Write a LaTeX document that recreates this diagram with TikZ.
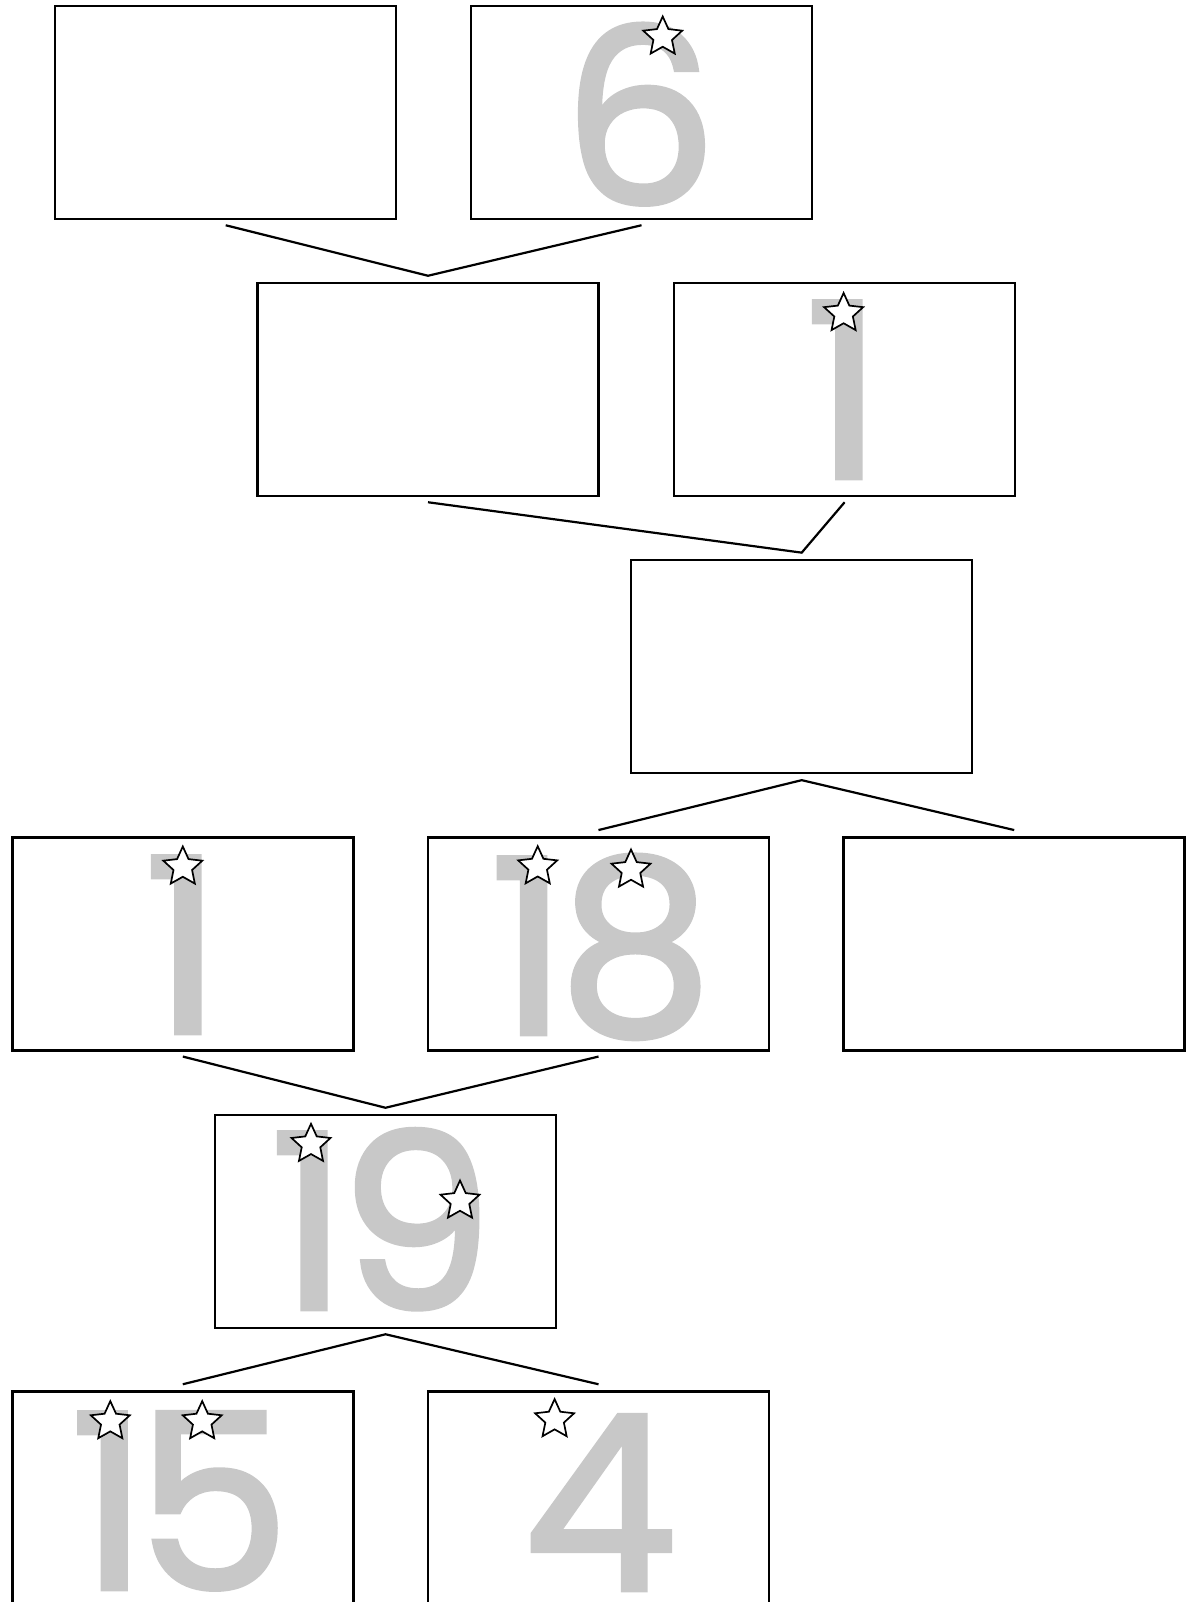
\documentclass[tikz,border=0pt]{standalone}
\usepackage{fontspec}
\setmainfont{Poppins}
\newfontfamily\digitfont[FakeBold=2]{Poppins}
\usetikzlibrary{shapes.geometric}
\definecolor{digitgray}{RGB}{200,200,200}
\tikzset{
  box/.style={draw=black, line width=2.5pt, minimum width=341pt, minimum height=213pt, inner sep=0pt, fill=none},
  link/.style={draw=black, line width=2.2pt, line join=miter},
  digit/.style={text=digitgray, inner sep=0pt, anchor=base, font=\digitfont\fontsize{244pt}{244pt}\selectfont},
  startstar/.style={star, star points=5, star point ratio=2.1, minimum size=41pt, inner sep=0pt, draw=black, line width=1.7pt, fill=white}
}
\begin{document}
\begin{tikzpicture}[x=1pt,y=-1pt]
\useasboundingbox (0,0) rectangle (1196,1602);
% boxes
\node[box] (A) at (225.7,112.5) {};
\node[box] (B) at (641.5,112.5) {};
\node[box] (C) at (428,389.5) {};
\node[box] (D) at (844.6,389.5) {};
\node[box] (E) at (801.7,666.4) {};
\node[box] (F) at (182.8,943.8) {};
\node[box] (G) at (598.5,943.8) {};
\node[box] (H) at (1014.2,943.8) {};
\node[box] (I) at (385.5,1221.5) {};
\node[box] (J) at (182.8,1498) {};
\node[box] (K) at (598.5,1498) {};
% digits
\node[digit] (tB) at (640,204) {6};
\node[digit] (tD) at (844,478) {1};
\node[digit] (tF) at (183,1033) {1};
\node[digit] (tG) at (601,1034) {1\hspace{-9.5pt}8};
\node[digit] (tI) at (381.5,1309) {1\hspace{-9pt}9};
\node[digit] (tJ) at (180,1589) {1\hspace{-12pt}5};
\node[digit] (tK) at (600,1590) {4};
% stars
\node[startstar] (sB) at (662.7,37) {};
\node[startstar] (sD) at (843.6,313.5) {};
\node[startstar] (sF) at (182.8,867) {};
\node[startstar] (sG1) at (537.7,866.7) {};
\node[startstar] (sG2) at (631,870) {};
\node[startstar] (sI1) at (311,1144.3) {};
\node[startstar] (sI2) at (460,1201) {};
\node[startstar] (sJ1) at (110.3,1421.6) {};
\node[startstar] (sJ2) at (202.2,1421.6) {};
\node[startstar] (sK) at (554.6,1419.6) {};
% connectors
\draw[link] ([yshift=-5pt]A.south) -- ([yshift=6pt]C.north) -- ([yshift=-5pt]B.south);
\draw[link] ([yshift=-5pt]C.south) -- ([yshift=6pt]E.north) -- ([yshift=-5pt]D.south);
\draw[link] ([yshift=6pt]G.north) -- ([yshift=-6pt]E.south) -- ([yshift=6pt]H.north);
\draw[link] ([yshift=-5pt]F.south) -- ([yshift=6pt]I.north) -- ([yshift=-5pt]G.south);
\draw[link] ([yshift=6pt]J.north) -- ([yshift=-5pt]I.south) -- ([yshift=6pt]K.north);
\end{tikzpicture}
\end{document}
